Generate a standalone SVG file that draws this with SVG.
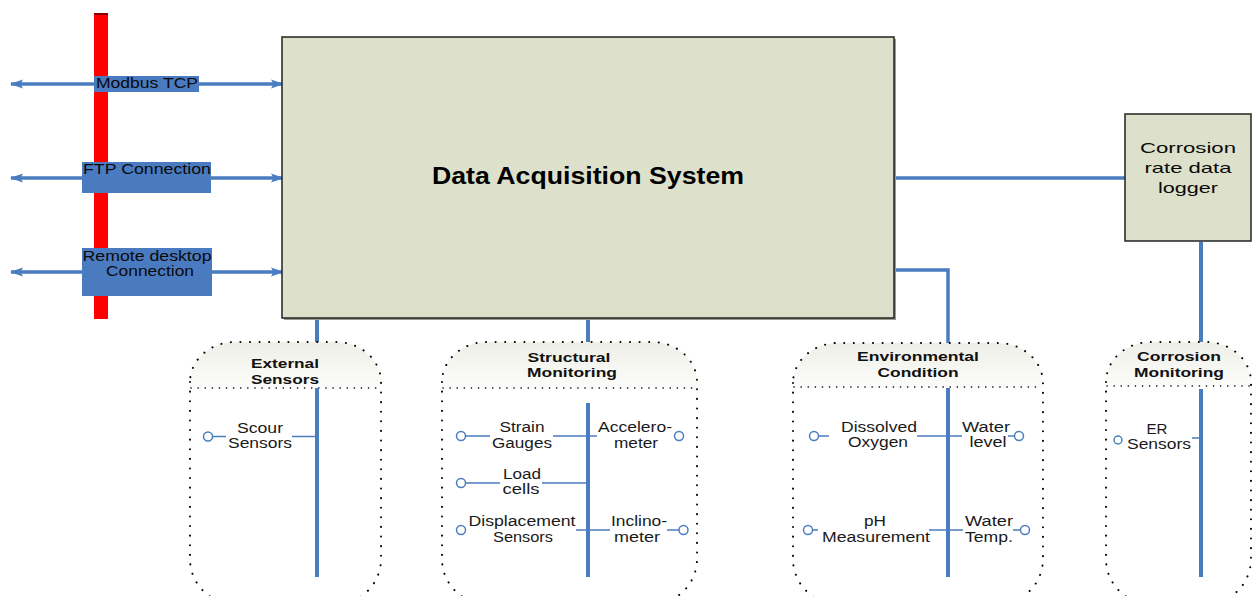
<svg xmlns="http://www.w3.org/2000/svg" width="1255" height="596" viewBox="0 0 1255 596">
<defs>
<marker id="ah" viewBox="0 0 13 12" refX="12" refY="6" markerWidth="13" markerHeight="12" markerUnits="userSpaceOnUse" orient="auto-start-reverse">
<path d="M0,1.5 L13,6 L0,10.5 L2.5,6 Z" fill="#4a7dc0"/>
</marker>
<linearGradient id="hg" x1="0" y1="0" x2="0" y2="1">
<stop offset="0" stop-color="#efefe8"/>
<stop offset="1" stop-color="#fcfcfa"/>
</linearGradient>
<style>
.trunk{stroke:#4a7dc0;stroke-width:4;fill:none}
.br{stroke:#4a7dc0;stroke-width:1.5;fill:none}
.dot{fill:#fff;stroke:#4a7dc0;stroke-width:1.5}
.arr{stroke:#4a7dc0;stroke-width:3.5;fill:none}
.outline{fill:none;stroke:#000;stroke-width:2;stroke-dasharray:0.1 9.5;stroke-linecap:round}
.sep{fill:none;stroke:#000;stroke-width:1.6;stroke-dasharray:0.1 7;stroke-linecap:round}
.hdr{fill:url(#hg)}
.lbl{fill:#4a7ac0}
.box{fill:#dde1cb;stroke:#222;stroke-width:1.5}
text{font-family:"Liberation Sans",Arial,sans-serif;fill:#1a1a1a;text-anchor:middle}
.it{font-size:14px}
.hd{font-size:13px;font-weight:bold;fill:#111}
.lt{font-size:15px;fill:#0a0a0a}
</style>
</defs>
<rect width="1255" height="596" fill="#fff"/>

<g id="network-bus">
<rect x="94" y="13" width="14" height="306" fill="#ff0000"/>
<rect x="94" y="13" width="14" height="2" fill="#8b0000"/>
</g>

<g id="connectors">
<line class="arr" x1="11" y1="84" x2="283" y2="84" marker-start="url(#ah)" marker-end="url(#ah)"/>
<line class="arr" x1="11" y1="178" x2="283" y2="178" marker-start="url(#ah)" marker-end="url(#ah)"/>
<line class="arr" x1="11" y1="272" x2="283" y2="272" marker-start="url(#ah)" marker-end="url(#ah)"/>
<line class="trunk" x1="894" y1="178" x2="1125" y2="178" style="stroke-width:3.5"/>
<polyline class="trunk" points="894,270 948,270 948,343" style="stroke-width:3.5"/>
<line class="trunk" x1="317" y1="319" x2="317" y2="343"/>
<line class="trunk" x1="588" y1="319" x2="588" y2="343"/>
<line class="trunk" x1="1201" y1="242" x2="1201" y2="343"/>
<line x1="664" y1="318.5" x2="695" y2="318.5" stroke="#4a7dc0" stroke-width="2"/>
</g>

<g id="modbus-tcp">
<rect class="lbl" x="94" y="76" width="105" height="16"/>
<text class="lt" x="147" y="88" textLength="102" lengthAdjust="spacingAndGlyphs">Modbus TCP</text>
</g>
<g id="ftp-connection">
<rect class="lbl" x="82" y="162" width="129" height="31"/>
<text class="lt" x="147" y="174" textLength="128" lengthAdjust="spacingAndGlyphs">FTP Connection</text>
</g>
<g id="remote-desktop">
<rect class="lbl" x="82" y="248" width="130" height="48"/>
<text class="lt" x="147" y="261" textLength="129" lengthAdjust="spacingAndGlyphs">Remote desktop</text>
<text class="lt" x="150" y="276" textLength="88" lengthAdjust="spacingAndGlyphs">Connection</text>
</g>

<g id="data-acquisition-system">
<rect x="284" y="39" width="612" height="281" fill="#9a9a90"/>
<rect class="box" x="282" y="37" width="612" height="281"/>
<text x="588" y="184" style="font-size:23px;font-weight:bold;fill:#000" textLength="312" lengthAdjust="spacingAndGlyphs">Data Acquisition System</text>
</g>

<g id="corrosion-logger">
<rect class="box" x="1125" y="114" width="126" height="127"/>
<text class="lt" x="1188" y="153" textLength="96" lengthAdjust="spacingAndGlyphs">Corrosion</text>
<text class="lt" x="1188" y="173" textLength="87" lengthAdjust="spacingAndGlyphs">rate data</text>
<text class="lt" x="1188" y="193" textLength="60" lengthAdjust="spacingAndGlyphs">logger</text>
</g>

<g id="external-sensors">
<path class="hdr" d="M190,388 L190,382 A45,40 0 0 1 235,342 L336,342 A45,40 0 0 1 381,382 L381,388 Z"/>
<path class="outline" d="M190,382 L190,559 A45,45 0 0 0 235,604 L336,604 A45,45 0 0 0 381,559 L381,382 A45,40 0 0 0 336,342 L235,342 A45,40 0 0 0 190,382 Z"/>
<line class="sep" x1="191" y1="388" x2="380" y2="388"/>
<text class="hd" x="285" y="368" textLength="68" lengthAdjust="spacingAndGlyphs">External</text>
<text class="hd" x="285" y="384" textLength="68" lengthAdjust="spacingAndGlyphs">Sensors</text>
<line class="trunk" x1="317" y1="388" x2="317" y2="577"/>
<line class="br" x1="212.5" y1="436.5" x2="226" y2="436.5"/>
<line class="br" x1="292" y1="436.5" x2="317" y2="436.5"/>
<circle class="dot" cx="208" cy="436.5" r="4.5"/>
<text class="it" x="260" y="433" textLength="46" lengthAdjust="spacingAndGlyphs">Scour</text>
<text class="it" x="260" y="448" textLength="64" lengthAdjust="spacingAndGlyphs">Sensors</text>
</g>

<g id="structural-monitoring">
<path class="hdr" d="M442,388 L442,382 A45,40 0 0 1 487,342 L652,342 A45,40 0 0 1 697,382 L697,388 Z"/>
<path class="outline" d="M442,382 L442,559 A45,45 0 0 0 487,604 L652,604 A45,45 0 0 0 697,559 L697,382 A45,40 0 0 0 652,342 L487,342 A45,40 0 0 0 442,382 Z"/>
<line class="sep" x1="443" y1="388" x2="696" y2="388"/>
<text class="hd" x="569" y="362" textLength="83" lengthAdjust="spacingAndGlyphs">Structural</text>
<text class="hd" x="572" y="377" textLength="90" lengthAdjust="spacingAndGlyphs">Monitoring</text>
<line class="trunk" x1="588" y1="403" x2="588" y2="577"/>
<line class="br" x1="465.5" y1="436" x2="490" y2="436"/>
<line class="br" x1="553" y1="436" x2="597" y2="436"/>
<circle class="dot" cx="461" cy="436" r="4.5"/>
<text class="it" x="522" y="432" textLength="45" lengthAdjust="spacingAndGlyphs">Strain</text>
<text class="it" x="522" y="448" textLength="60" lengthAdjust="spacingAndGlyphs">Gauges</text>
<circle class="dot" cx="679" cy="436" r="4.5"/>
<text class="it" x="635" y="432" textLength="74" lengthAdjust="spacingAndGlyphs">Accelero-</text>
<text class="it" x="636" y="448" textLength="44" lengthAdjust="spacingAndGlyphs">meter</text>
<line class="br" x1="465.5" y1="483" x2="500" y2="483"/>
<line class="br" x1="542" y1="483" x2="588" y2="483"/>
<circle class="dot" cx="461" cy="483" r="4.5"/>
<text class="it" x="522" y="479" textLength="38" lengthAdjust="spacingAndGlyphs">Load</text>
<text class="it" x="521" y="494" textLength="37" lengthAdjust="spacingAndGlyphs">cells</text>
<line class="br" x1="576" y1="530" x2="610" y2="530"/>
<circle class="dot" cx="461" cy="530" r="4.5"/>
<text class="it" x="522" y="526" textLength="107" lengthAdjust="spacingAndGlyphs">Displacement</text>
<text class="it" x="523" y="542" textLength="60" lengthAdjust="spacingAndGlyphs">Sensors</text>
<line class="br" x1="667" y1="530" x2="679" y2="530"/>
<circle class="dot" cx="683.5" cy="530" r="4.5"/>
<text class="it" x="639" y="526" textLength="56" lengthAdjust="spacingAndGlyphs">Inclino-</text>
<text class="it" x="637" y="542" textLength="46" lengthAdjust="spacingAndGlyphs">meter</text>
</g>

<g id="environmental-condition">
<path class="hdr" d="M793,388 L793,383 A45,40 0 0 1 838,343 L998,343 A45,40 0 0 1 1043,383 L1043,388 Z"/>
<path class="outline" d="M793,383 L793,559 A45,45 0 0 0 838,604 L998,604 A45,45 0 0 0 1043,559 L1043,383 A45,40 0 0 0 998,343 L838,343 A45,40 0 0 0 793,383 Z"/>
<line class="sep" x1="794" y1="387" x2="1042" y2="387"/>
<text class="hd" x="918" y="361" textLength="122" lengthAdjust="spacingAndGlyphs">Environmental</text>
<text class="hd" x="918" y="377" textLength="81" lengthAdjust="spacingAndGlyphs">Condition</text>
<line class="trunk" x1="948" y1="388" x2="948" y2="577"/>
<line class="br" x1="818.5" y1="436" x2="829" y2="436"/>
<line class="br" x1="917" y1="436" x2="962" y2="436"/>
<circle class="dot" cx="814" cy="436" r="4.5"/>
<text class="it" x="879" y="432" textLength="76" lengthAdjust="spacingAndGlyphs">Dissolved</text>
<text class="it" x="878" y="447" textLength="60" lengthAdjust="spacingAndGlyphs">Oxygen</text>
<line class="br" x1="1008" y1="436" x2="1014.5" y2="436"/>
<circle class="dot" cx="1019" cy="436" r="4.5"/>
<text class="it" x="986" y="432" textLength="48" lengthAdjust="spacingAndGlyphs">Water</text>
<text class="it" x="988" y="447" textLength="37" lengthAdjust="spacingAndGlyphs">level</text>
<line class="br" x1="812.5" y1="530" x2="818" y2="530"/>
<line class="br" x1="929" y1="530" x2="963" y2="530"/>
<circle class="dot" cx="808" cy="530" r="4.5"/>
<text class="it" x="875" y="526" textLength="22" lengthAdjust="spacingAndGlyphs">pH</text>
<text class="it" x="876" y="542" textLength="108" lengthAdjust="spacingAndGlyphs">Measurement</text>
<line class="br" x1="1013" y1="530" x2="1020.5" y2="530"/>
<circle class="dot" cx="1025" cy="530" r="4.5"/>
<text class="it" x="989" y="526" textLength="48" lengthAdjust="spacingAndGlyphs">Water</text>
<text class="it" x="989" y="542" textLength="48" lengthAdjust="spacingAndGlyphs">Temp.</text>
</g>

<g id="corrosion-monitoring">
<path class="hdr" d="M1106,386 L1106,382 A45,40 0 0 1 1151,342 L1206,342 A45,40 0 0 1 1251,382 L1251,386 Z"/>
<path class="outline" d="M1106,382 L1106,559 A45,45 0 0 0 1151,604 L1206,604 A45,45 0 0 0 1251,559 L1251,382 A45,40 0 0 0 1206,342 L1151,342 A45,40 0 0 0 1106,382 Z"/>
<line class="sep" x1="1107" y1="386" x2="1250" y2="386"/>
<text class="hd" x="1179" y="361" textLength="84" lengthAdjust="spacingAndGlyphs">Corrosion</text>
<text class="hd" x="1179" y="377" textLength="90" lengthAdjust="spacingAndGlyphs">Monitoring</text>
<line class="trunk" x1="1201" y1="389" x2="1201" y2="577"/>
<line class="br" x1="1192" y1="438" x2="1201" y2="438"/>
<circle class="dot" cx="1118" cy="440" r="4"/>
<text class="it" x="1157" y="434" textLength="21" lengthAdjust="spacingAndGlyphs">ER</text>
<text class="it" x="1159" y="449" textLength="64" lengthAdjust="spacingAndGlyphs">Sensors</text>
</g>
</svg>
